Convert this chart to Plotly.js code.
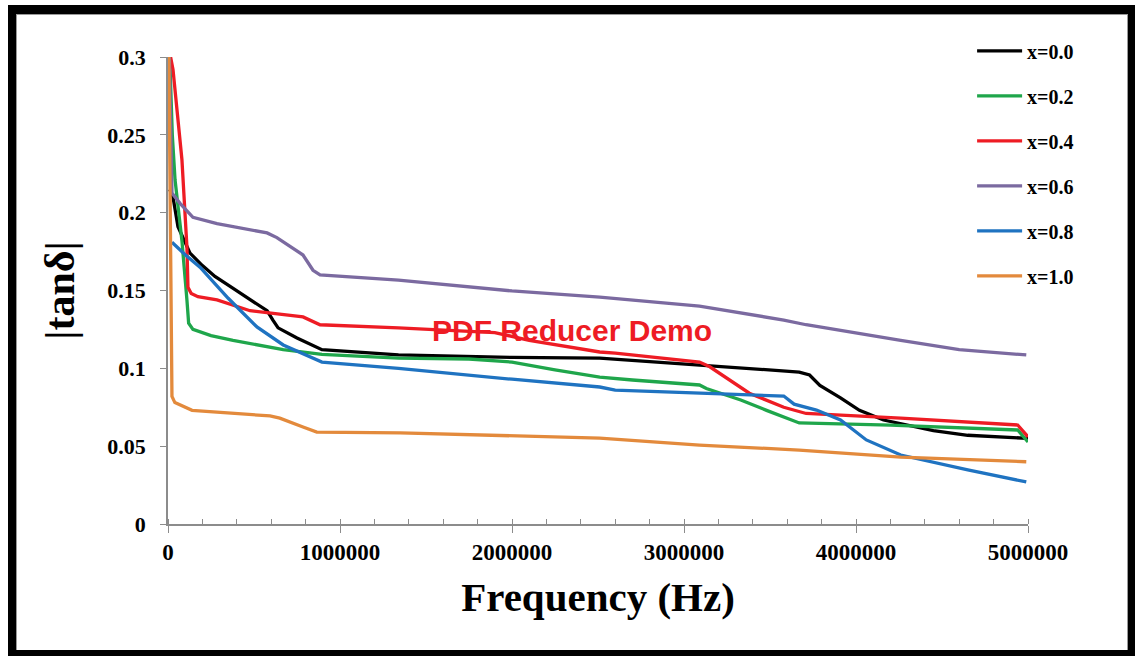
<!DOCTYPE html>
<html>
<head>
<meta charset="utf-8">
<script src="https://cdn.plot.ly/plotly-3.0.1.min.js"></script>
<style>
  html, body { margin: 0; padding: 0; background: #ffffff; }
  #wrap { position: relative; width: 1135px; height: 656px; overflow: hidden; }
  #chart { position: absolute; left: 0; top: 0; width: 1135px; height: 656px; }
  #frame { position: absolute; left: 8px; top: 5px; width: 1127px; height: 651px;
           box-sizing: border-box; border-style: solid; border-color: #000;
           border-width: 9px 7px 6px 8px; pointer-events: none; }
  #inner { position: absolute; left: 16px; top: 14px; width: 1112px; height: 637px;
           box-sizing: border-box; border: 1px solid #9a9a9a; pointer-events: none; }
</style>
</head>
<body>
<div id="wrap">
  <div id="chart"></div>
  <div id="inner"></div>
  <div id="frame"></div>
</div>
<script>
// Frequency (Hz) and |tan delta| for each composition
const freqX00 = [10000, 29000, 58000, 128000, 200000, 273000, 370000, 465000, 576000, 610000, 640000, 750000, 895000, 1340000, 2000000, 2510000, 3090000, 3670000, 3730000, 3790000, 3910000, 4020000, 4160000, 4450000, 4650000, 4950000, 5000000];
const tanX00  = [0.215, 0.21, 0.191, 0.174, 0.166, 0.159, 0.152, 0.145, 0.137, 0.131, 0.126, 0.1195, 0.112, 0.1086, 0.107, 0.1066, 0.102, 0.0976, 0.0957, 0.089, 0.081, 0.073, 0.0668, 0.060, 0.057, 0.0552, 0.055];

const freqX02 = [10000, 25000, 41000, 60000, 81000, 110000, 120000, 145000, 250000, 378000, 670000, 895000, 1340000, 1750000, 2000000, 2250000, 2510000, 2700000, 3090000, 3130000, 3330000, 3480000, 3670000, 4200000, 4940000, 5000000];
const tanX02  = [0.3, 0.25, 0.221, 0.2, 0.182, 0.144, 0.129, 0.125, 0.121, 0.118, 0.112, 0.109, 0.1066, 0.106, 0.104, 0.099, 0.0944, 0.0925, 0.0893, 0.087, 0.0797, 0.073, 0.0649, 0.0635, 0.0604, 0.0527];

const freqX04 = [15000, 29000, 81000, 95000, 110000, 116000, 135000, 174000, 285000, 477000, 785000, 884000, 1340000, 1900000, 2100000, 2510000, 2600000, 3090000, 3150000, 3380000, 3580000, 3710000, 4260000, 4940000, 5000000];
const tanX04  = [0.3, 0.292, 0.234, 0.21, 0.178, 0.152, 0.148, 0.146, 0.144, 0.137, 0.133, 0.128, 0.126, 0.123, 0.118, 0.1105, 0.1098, 0.104, 0.101, 0.084, 0.075, 0.071, 0.068, 0.0636, 0.056];

const freqX06 = [8000, 15000, 23000, 70000, 145000, 285000, 378000, 477000, 576000, 633000, 710000, 785000, 843000, 884000, 1340000, 2000000, 2510000, 3090000, 3580000, 3710000, 4260000, 4600000, 4990000];
const tanX06  = [0.3, 0.25, 0.2126, 0.206, 0.197, 0.193, 0.191, 0.189, 0.187, 0.184, 0.178, 0.1728, 0.163, 0.160, 0.1567, 0.1497, 0.1458, 0.140, 0.131, 0.128, 0.118, 0.112, 0.1086];

const freqX08 = [23000, 100000, 186000, 350000, 517000, 670000, 895000, 1340000, 2000000, 2510000, 2600000, 3090000, 3580000, 3640000, 3770000, 3910000, 4060000, 4260000, 4650000, 4990000];
const tanX08  = [0.181, 0.173, 0.165, 0.145, 0.1266, 0.115, 0.104, 0.100, 0.093, 0.088, 0.086, 0.084, 0.0822, 0.077, 0.0732, 0.0668, 0.054, 0.0443, 0.0347, 0.027];

const freqX10 = [5000, 15000, 23000, 40000, 140000, 593000, 650000, 785000, 865000, 1350000, 2510000, 3090000, 3670000, 4260000, 4990000];
const tanX10  = [0.3, 0.15, 0.082, 0.078, 0.073, 0.0694, 0.068, 0.0623, 0.059, 0.0585, 0.0552, 0.0507, 0.0475, 0.043, 0.040];

const seriesNames = ["x=0.0", "x=0.2", "x=0.4", "x=0.6", "x=0.8", "x=1.0"];
const xTickVals = [0, 1000000, 2000000, 3000000, 4000000, 5000000];
const xTickText = ["0", "1000000", "2000000", "3000000", "4000000", "5000000"];
const yTickVals = [0, 0.05, 0.1, 0.15, 0.2, 0.25, 0.3];
const yTickText = ["0", "0.05", "0.1", "0.15", "0.2", "0.25", "0.3"];

const colors = ["#000000", "#1fa64b", "#ee1c24", "#7b6aa0", "#1f73c1", "#e38a3c"];
const freqs = [freqX00, freqX02, freqX04, freqX06, freqX08, freqX10];
const vals = [tanX00, tanX02, tanX04, tanX06, tanX08, tanX10];

const traces = seriesNames.map((name, i) => ({
  type: "scatter",
  mode: "lines",
  name: "<b>" + name + "</b>",
  legendgroup: "g" + i,
  x: freqs[i],
  y: vals[i],
  line: { color: colors[i], width: 3.3 },
  hoverinfo: "x+y+name"
}));

const serif = "'Liberation Serif', 'Times New Roman', serif";

const layout = {
  width: 1135,
  height: 656,
  margin: { l: 168, r: 107, t: 57, b: 132 },
  paper_bgcolor: "#ffffff",
  plot_bgcolor: "#ffffff",
  showlegend: true,
  legend: {
    x: 0.935, xanchor: "left",
    y: 1.055, yanchor: "top",
    font: { family: serif, size: 20, color: "#000" },
    tracegroupgap: 16,
    itemwidth: 45,
    bgcolor: "rgba(0,0,0,0)"
  },
  xaxis: {
    range: [0, 5000000],
    tickmode: "array",
    tickvals: xTickVals,
    ticktext: xTickText,
    ticks: "outside",
    ticklen: 7,
    tickcolor: "#8c8c8c",
    showline: true,
    linecolor: "#8c8c8c",
    linewidth: 1.5,
    showgrid: false,
    zeroline: false,
    tickfont: { family: serif, size: 23, color: "#000", weight: "bold" },
    minor: { dtick: 200000, ticks: "inside", ticklen: 5, tickcolor: "#8c8c8c", showgrid: false },
    title: { text: "<b>Frequency (Hz)</b>", font: { family: serif, size: 41, color: "#000" }, standoff: 18 }
  },
  yaxis: {
    range: [0, 0.3],
    tickmode: "array",
    tickvals: yTickVals,
    ticktext: yTickText,
    ticks: "outside",
    ticklen: 6,
    tickcolor: "#8c8c8c",
    showline: true,
    linecolor: "#8c8c8c",
    linewidth: 1.5,
    showgrid: false,
    zeroline: false,
    ticklabelstandoff: 10,
    tickfont: { family: serif, size: 22, color: "#000", weight: "bold" },
    title: { text: "<b>|tanδ|</b>", font: { family: serif, size: 42, color: "#000" }, standoff: 20 }
  },
  annotations: [{
    xref: "paper", yref: "paper",
    x: 0.47, y: 0.415,
    xanchor: "center", yanchor: "middle",
    text: "<b>PDF Reducer Demo</b>",
    showarrow: false,
    font: { family: "'Liberation Sans', Arial, sans-serif", size: 30, color: "#ee1c24" }
  }]
};

Plotly.newPlot("chart", traces, layout, { displayModeBar: false, responsive: false });
</script>
</body>
</html>
